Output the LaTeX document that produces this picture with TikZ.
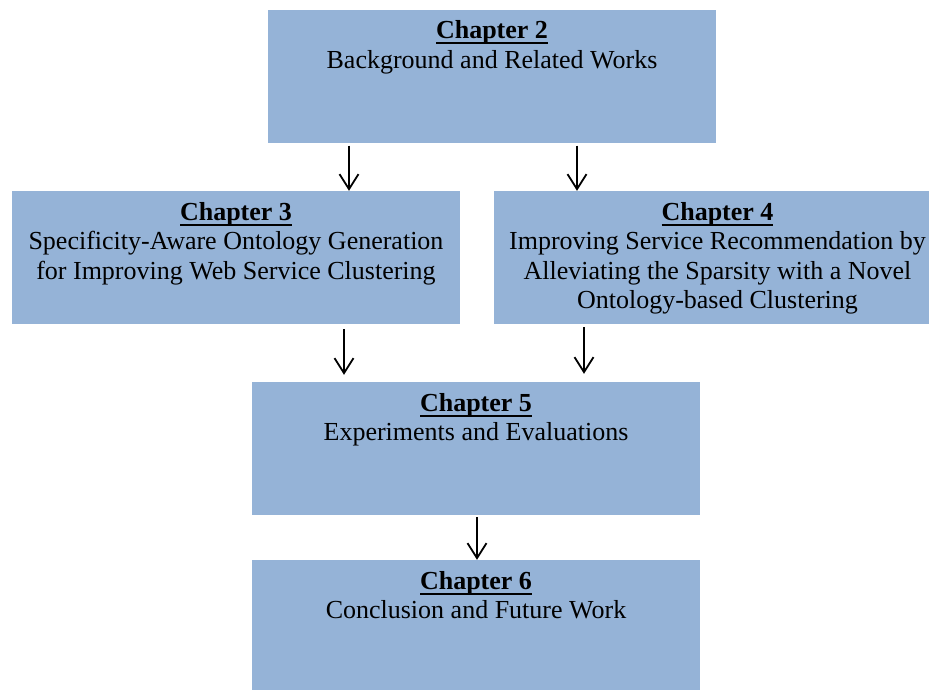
\documentclass[tikz,border=0pt]{standalone}
\usepackage{fontspec}
\setmainfont{Liberation Serif}
\usetikzlibrary{arrows.meta}
\definecolor{boxblue}{RGB}{149,179,215}
% bold chapter heading with a heavy underline
\newcommand\chead[1]{\vtop{\hbox{\raisebox{0pt}[\height][0pt]{\textbf{#1}}}\kern3.6pt\hrule height 2pt}}
\begin{document}
\begin{tikzpicture}[x=1pt,y=-1pt,
  box/.style={rectangle, fill=boxblue, draw=none, minimum width=448pt,
    minimum height=133pt, inner sep=0pt},
  lbl/.style={anchor=north, align=center, inner sep=0pt,
    font=\fontsize{26}{29.6}\selectfont},
  arr/.style={draw=black, line width=1.8pt,
    -{Straight Barb[length=15pt,width=19pt]}}]
\useasboundingbox (0,0) rectangle (929,689);
\clip (0,0) rectangle (929,689);

% chapter boxes
\node[box] (b2) at (492,76) {};
\node[box] (b3) at (236,257.5) {};
\node[box] (b4) at (717.5,257.5) {};
\node[box] (b5) at (476,448.5) {};
\node[box] (b6) at (476,626.5) {};

% box texts
\node[lbl] (t2) at ([yshift=-11pt]b2.north) {\chead{Chapter 2}\\Background and Related Works};
\node[lbl] (t3) at ([yshift=-11pt]b3.north) {\chead{Chapter 3}\\Specificity-Aware Ontology Generation\\for Improving Web Service Clustering};
\node[lbl] (t4) at ([yshift=-11pt]b4.north) {\chead{Chapter 4}\\Improving Service Recommendation by\\Alleviating the Sparsity with a Novel\\Ontology-based Clustering};
\node[lbl] (t5) at ([yshift=-11pt]b5.north) {\chead{Chapter 5}\\Experiments and Evaluations};
\node[lbl] (t6) at ([yshift=-11pt]b6.north) {\chead{Chapter 6}\\Conclusion and Future Work};

% arrow start and end points
\coordinate (s1) at ([yshift=-3pt]b2.south -| 349,0);
\coordinate (s2) at ([yshift=-3pt]b2.south -| 577,0);
\coordinate (s3) at ([yshift=-5pt]b3.south -| 344,0);
\coordinate (s4) at ([yshift=-3pt]b4.south -| 584,0);
\coordinate (s5) at ([yshift=-2pt]b5.south -| 477,0);
\coordinate (e3) at (s3 |- b5.north);
\coordinate (e4) at (s4 |- b5.north);

% connectors
\draw[arr] (s1) -- (s1 |- b3.north);
\draw[arr] (s2) -- (s2 |- b4.north);
\draw[arr] (s3) -- ([yshift=7pt]e3);
\draw[arr] (s4) -- ([yshift=8pt]e4);
\draw[arr] (s5) -- (s5 |- b6.north);
\end{tikzpicture}
\end{document}
